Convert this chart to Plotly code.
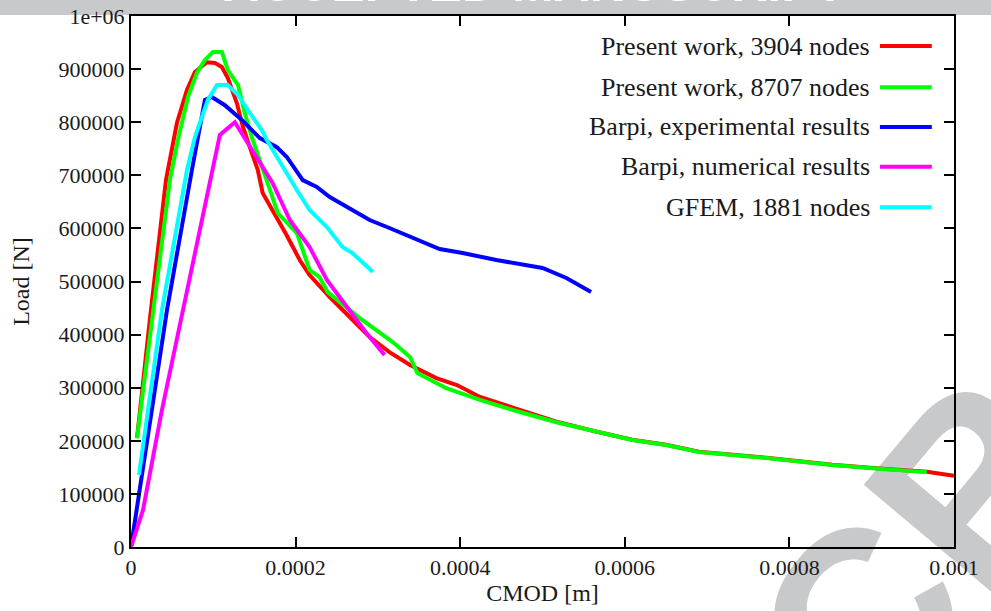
import plotly.graph_objects as go

# ---------------- data ----------------
x_3904 = [7.3e-6, 2.31e-5, 4.25e-5, 5.58e-5, 6.8e-5, 7.77e-5, 9.22e-5, 1.02e-4, 1.104e-4,
          1.177e-4, 1.286e-4, 1.36e-4, 1.444e-4, 1.541e-4, 1.6e-4, 1.72e-4, 1.89e-4,
          2.05e-4, 2.17e-4, 2.415e-4, 2.66e-4, 2.9e-4, 3.14e-4, 3.39e-4, 3.71e-4, 3.96e-4,
          4.24e-4, 4.64e-4, 5.17e-4, 5.66e-4, 6.09e-4, 6.5e-4, 6.9e-4, 7.72e-4, 8.52e-4,
          9.13e-4, 9.67e-4, 1.0e-3]
y_3904 = [205000, 431000, 691000, 798500, 860600, 894500, 913000, 911500, 904000,
          883000, 836000, 791000, 753000, 710000, 666700, 634600, 587600,
          540500, 512000, 470800, 433000, 395500, 367000, 342700, 318000, 305000,
          282500, 262000, 236000, 217000, 202000, 192500, 179500, 168000, 155000,
          147500, 141500, 134000]

x_8707 = [7.3e-6, 2.55e-5, 4.73e-5, 5.7e-5, 6.92e-5, 8.0e-5, 8.98e-5, 9.95e-5, 1.104e-4,
          1.177e-4, 1.3e-4, 1.383e-4, 1.468e-4, 1.784e-4, 2.015e-4, 2.17e-4, 2.29e-4,
          2.39e-4, 2.78e-4, 3.18e-4, 3.39e-4, 3.48e-4, 3.83e-4, 4.24e-4, 4.64e-4,
          5.17e-4, 5.66e-4, 6.09e-4, 6.5e-4, 6.9e-4, 7.72e-4, 8.52e-4, 9.13e-4, 9.67e-4]
y_8707 = [205000, 427500, 691000, 766500, 847500, 892700, 917000, 932000, 932000,
          898000, 870000, 817000, 772000, 629000, 591000, 521700, 508500,
          480000, 431000, 386000, 358000, 327700, 299000, 277000, 258000,
          235000, 216500, 201500, 192000, 179000, 167600, 154400, 147000, 141000]

x_exp = [0.0, 4.37e-5, 7.4e-5, 8.98e-5, 9.83e-5, 1.14e-4, 1.347e-4, 1.566e-4, 1.772e-4,
         1.893e-4, 2.087e-4, 2.257e-4, 2.415e-4, 2.9e-4, 3.14e-4, 3.39e-4, 3.75e-4,
         4.03e-4, 4.44e-4, 5.0e-4, 5.29e-4, 5.59e-4]
y_exp = [0, 446000, 710000, 842000, 847500, 832000, 804000, 770000, 753000,
         734500, 691000, 678000, 659000, 615800, 600800, 583800, 561200,
         553700, 540500, 525400, 506600, 480200]

x_num = [0.0, 1.46e-5, 3.76e-5, 6.31e-5, 9.95e-5, 1.08e-4, 1.262e-4, 1.626e-4, 1.72e-4,
         1.93e-4, 2.17e-4, 2.38e-4, 2.62e-4, 2.86e-4, 3.08e-4]
y_num = [0, 69700, 258000, 446300, 710000, 776000, 800000, 710000, 685500,
         615800, 565000, 502800, 452000, 403000, 361600]

x_gfem = [9.7e-6, 3.76e-5, 6.8e-5, 7.77e-5, 9.34e-5, 1.044e-4, 1.177e-4, 1.3e-4, 1.42e-4,
          1.59e-4, 1.65e-4, 1.845e-4, 2.015e-4, 2.17e-4, 2.38e-4, 2.57e-4, 2.69e-4, 2.94e-4]
y_gfem = [135600, 446000, 710000, 772000, 842000, 870000, 870000, 851000, 823000,
          785000, 766500, 715600, 672300, 634600, 602600, 565000, 553700, 517900]

series_names = ["Present work, 3904 nodes", "Present work, 8707 nodes",
                "Barpi, experimental results", "Barpi, numerical results",
                "GFEM, 1881 nodes"]
series_colors = ["#ff0000", "#00ff00", "#0000ff", "#ff00ff", "#00ffff"]
series_x = [x_3904, x_8707, x_exp, x_num, x_gfem]
series_y = [y_3904, y_8707, y_exp, y_num, y_gfem]

x_tick_vals = [0, 0.0002, 0.0004, 0.0006, 0.0008, 0.001]
x_tick_text = ["0", "0.0002", "0.0004", "0.0006", "0.0008", "0.001"]
y_tick_vals = [0, 100000, 200000, 300000, 400000, 500000, 600000, 700000, 800000, 900000, 1000000]
y_tick_text = ["0", "100000", "200000", "300000", "400000", "500000", "600000",
               "700000", "800000", "900000", "1e+06"]

FONT = "Liberation Serif"
TXT = "#1a1a1a"

fig = go.Figure()
for name, col, xs, ys in zip(series_names, series_colors, series_x, series_y):
    fig.add_trace(go.Scatter(x=xs, y=ys, mode="lines", name=name,
                             line=dict(color=col, width=4), showlegend=False))

# custom gnuplot-style legend: text right-aligned, sample line on the right
shapes = []
annotations = []
row_y = [0.9435, 0.866, 0.791, 0.716, 0.640]
for name, col, ry in zip(series_names, series_colors, row_y):
    annotations.append(dict(xref="paper", yref="paper", x=0.900, y=ry, text=name,
                            showarrow=False, xanchor="right", yanchor="middle",
                            font=dict(family=FONT, size=26, color=TXT)))
    shapes.append(dict(type="line", xref="paper", yref="paper", x0=0.910, x1=0.973,
                       y0=ry, y1=ry, line=dict(color=col, width=4)))

# watermark pieces (behind the plot)
shapes.append(dict(type="rect", xref="paper", yref="paper", x0=-0.2, x1=1.1,
                   y0=1.0019, y1=1.1, line=dict(width=0), fillcolor="#c8c9cb",
                   layer="below"))
shapes.append(dict(type="rect", xref="paper", yref="paper", x0=0.855, x1=0.885,
                   y0=-0.115, y1=-0.08, line=dict(width=0),
                   fillcolor="rgba(0,0,0,0)", layer="below",
                   label=dict(text="<b>SCR</b>", textangle=-50, textposition="middle center",
                              font=dict(family="Liberation Sans", size=245, color="#c8c9cb"))))
annotations.append(dict(xref="paper", yref="paper", x=0.49, y=1.004, yanchor="bottom",
                        xanchor="center", showarrow=False,
                        text="<b>ACCEPTED MANUSCRIPT</b>",
                        font=dict(family="Liberation Sans", size=50, color="white")))

axis_common = dict(showline=True, linecolor="black", linewidth=2, mirror="ticks",
                   ticks="inside", ticklen=10, tickwidth=1.5, tickcolor="black",
                   showgrid=False, zeroline=False,
                   tickfont=dict(family=FONT, size=22, color=TXT))

fig.update_layout(
    width=991, height=611,
    margin=dict(l=131, r=37, t=16, b=64, autoexpand=False),
    paper_bgcolor="white", plot_bgcolor="rgba(0,0,0,0)",
    xaxis=dict(range=[0, 0.001], tickvals=x_tick_vals, ticktext=x_tick_text,
               title=dict(text="CMOD [m]", font=dict(family=FONT, size=24, color=TXT),
                          standoff=2),
               **axis_common),
    yaxis=dict(range=[0, 1000000], tickvals=y_tick_vals, ticktext=y_tick_text,
               title=dict(text="Load [N]", font=dict(family=FONT, size=24, color=TXT),
                          standoff=22),
               **axis_common),
    shapes=shapes,
    annotations=annotations,
)

fig.write_html("out.html", config={"displayModeBar": False},
               post_script="document.body.style.margin='0';document.body.style.overflow='hidden';")
